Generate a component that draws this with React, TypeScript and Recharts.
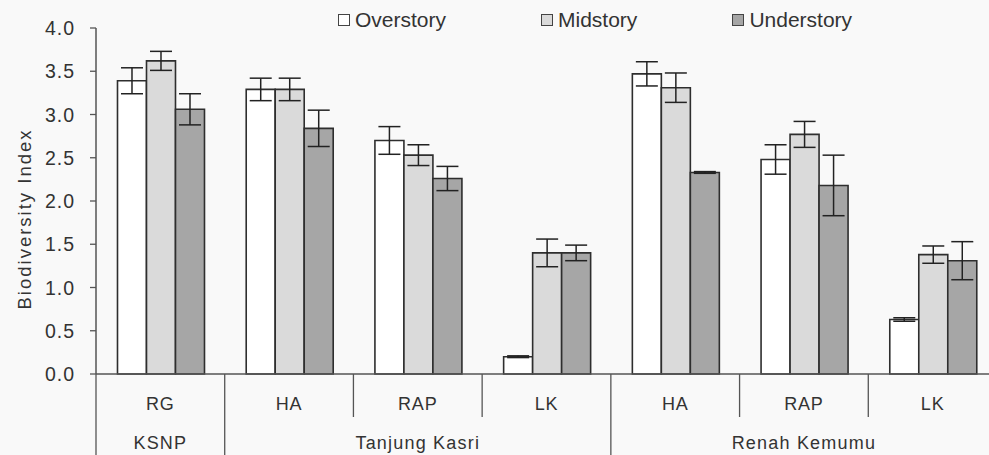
import { BarChart, Bar, XAxis, YAxis, ErrorBar, Legend } from "recharts";

// site (first axis row) and region (second axis row) for each bar group
const sites = ["RG", "HA", "RAP", "LK", "HA", "RAP", "LK"];
const regions = [
  "KSNP",
  "Tanjung Kasri",
  "Tanjung Kasri",
  "Tanjung Kasri",
  "Renah Kemumu",
  "Renah Kemumu",
  "Renah Kemumu",
];

const seriesNames = ["Overstory", "Midstory", "Understory"];

const overstory = [3.39, 3.29, 2.7, 0.2, 3.47, 2.48, 0.63];
const overstoryErr = [0.15, 0.13, 0.16, 0.01, 0.14, 0.17, 0.02];
const midstory = [3.62, 3.29, 2.53, 1.4, 3.31, 2.77, 1.38];
const midstoryErr = [0.11, 0.13, 0.12, 0.16, 0.17, 0.15, 0.1];
const understory = [3.06, 2.84, 2.26, 1.4, 2.33, 2.18, 1.31];
const understoryErr = [0.18, 0.21, 0.14, 0.09, 0.01, 0.35, 0.22];

const yTicks = [0, 0.5, 1, 1.5, 2, 2.5, 3, 3.5, 4];

const data = sites.map((site, i) => ({
  key: `g${i}`,
  site,
  region: regions[i],
  overstory: overstory[i],
  overstoryErr: overstoryErr[i],
  midstory: midstory[i],
  midstoryErr: midstoryErr[i],
  understory: understory[i],
  understoryErr: understoryErr[i],
}));

const CHART_W = 1001;
const CHART_H = 455;
const MARGIN = { top: 28, right: 4, bottom: 0, left: 0 };
const Y_AXIS_W = 96;
const SITE_AXIS_H = 43;
const REGION_AXIS_H = 38;
const BAND = (CHART_W - MARGIN.left - MARGIN.right - Y_AXIS_W) / data.length;

const FONT = '"Liberation Sans", Arial, sans-serif';
const TEXT = "#333";
const LINE = "#555";

function YTick(props: any) {
  const { x, y, payload } = props;
  return (
    <text
      x={x}
      y={y}
      dy={7}
      textAnchor="end"
      fontFamily={FONT}
      fontSize={19.5}
      letterSpacing={1}
      fill={TEXT}
    >
      {Number(payload.value).toFixed(1)}
    </text>
  );
}

function SiteTick(props: any) {
  const { x, y, payload } = props;
  const left = x - BAND / 2;
  return (
    <g>
      <line x1={left} y1={y} x2={left} y2={y + SITE_AXIS_H} stroke={LINE} strokeWidth={1.3} />
      <text
        x={x}
        y={y + 36}
        textAnchor="middle"
        fontFamily={FONT}
        fontSize={18}
        letterSpacing={0.8}
        fill={TEXT}
      >
        {sites[payload.index]}
      </text>
    </g>
  );
}

function RegionTick(props: any) {
  const { x, y, payload } = props;
  const i = payload.index;
  if (i > 0 && regions[i - 1] === regions[i]) return <g />;
  let last = i;
  while (last + 1 < regions.length && regions[last + 1] === regions[i]) last++;
  const left = x - BAND / 2;
  return (
    <g>
      <line x1={left} y1={y} x2={left} y2={CHART_H} stroke={LINE} strokeWidth={1.3} />
      <text
        x={x + ((last - i) * BAND) / 2}
        y={y + 32}
        textAnchor="middle"
        fontFamily={FONT}
        fontSize={18}
        letterSpacing={1.2}
        fill={TEXT}
      >
        {regions[i]}
      </text>
    </g>
  );
}

function LegendContent(props: any) {
  const items = [...(props.payload || [])].sort(
    (a: any, b: any) => seriesNames.indexOf(a.value) - seriesNames.indexOf(b.value),
  );
  return (
    <div style={{ display: "flex", fontFamily: FONT, fontSize: 21, color: TEXT }}>
      {items.map((entry: any) => (
        <div
          key={entry.value}
          style={{ display: "flex", alignItems: "center", marginRight: 95 }}
        >
          <span
            style={{
              width: 10,
              height: 10,
              border: "1.5px solid #444",
              background: entry.color,
              marginRight: 5,
            }}
          />
          <span>{entry.value}</span>
        </div>
      ))}
    </div>
  );
}

export default function App() {
  return (
    <div
      style={{
        position: "absolute",
        left: 0,
        top: 0,
        width: 989,
        height: CHART_H,
        overflow: "hidden",
        background: "#f9f9f9",
      }}
    >
      <BarChart
        width={CHART_W}
        height={CHART_H}
        data={data}
        margin={MARGIN}
        barCategoryGap="16.7%"
        barGap={0}
      >
        <XAxis
          dataKey="key"
          height={SITE_AXIS_H}
          interval={0}
          tickSize={0}
          tickMargin={0}
          tickLine={false}
          axisLine={{ stroke: LINE, strokeWidth: 1.5 }}
          tick={<SiteTick />}
        />
        <XAxis
          xAxisId="region"
          dataKey="key"
          height={REGION_AXIS_H}
          interval={0}
          tickSize={0}
          tickMargin={0}
          tickLine={false}
          axisLine={false}
          tick={<RegionTick />}
        />
        <YAxis
          width={Y_AXIS_W}
          domain={[0, 4]}
          ticks={yTicks}
          interval={0}
          tickSize={6}
          tickMargin={15}
          tickLine={{ stroke: LINE, strokeWidth: 1.3 }}
          axisLine={{ stroke: LINE, strokeWidth: 1.5 }}
          tick={<YTick />}
          label={{
            content: (p: any) => {
              const vb = p.viewBox;
              const cx = 24;
              const cy = vb.y + vb.height / 2 + 18;
              return (
                <text
                  x={cx}
                  y={cy}
                  transform={`rotate(-90, ${cx}, ${cy})`}
                  textAnchor="middle"
                  dominantBaseline="central"
                  fontFamily={FONT}
                  fontSize={18.5}
                  letterSpacing={2}
                  fill={TEXT}
                >
                  Biodiversity Index
                </text>
              );
            },
          }}
        />
        <Legend
          verticalAlign="middle"
          align="center"
          wrapperStyle={{ top: 8, left: 338, width: "auto", height: "auto" }}
          content={<LegendContent />}
        />
        <Bar
          dataKey="overstory"
          name={seriesNames[0]}
          fill="#ffffff"
          stroke="#2e2e2e"
          strokeWidth={1.6}
          isAnimationActive={false}
        >
          <ErrorBar dataKey="overstoryErr" width={11} stroke="#222" strokeWidth={1.5} />
        </Bar>
        <Bar
          dataKey="midstory"
          name={seriesNames[1]}
          fill="#dadada"
          stroke="#2e2e2e"
          strokeWidth={1.6}
          isAnimationActive={false}
        >
          <ErrorBar dataKey="midstoryErr" width={11} stroke="#222" strokeWidth={1.5} />
        </Bar>
        <Bar
          dataKey="understory"
          name={seriesNames[2]}
          fill="#a6a6a6"
          stroke="#2e2e2e"
          strokeWidth={1.6}
          isAnimationActive={false}
        >
          <ErrorBar dataKey="understoryErr" width={11} stroke="#222" strokeWidth={1.5} />
        </Bar>
      </BarChart>
    </div>
  );
}
